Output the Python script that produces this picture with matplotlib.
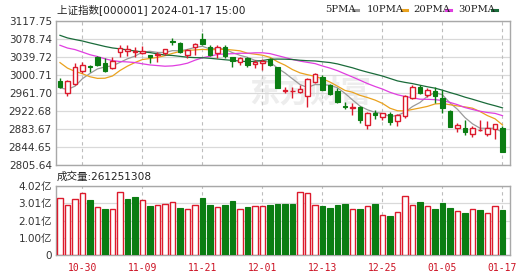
import matplotlib
matplotlib.use('Agg')
import matplotlib.pyplot as plt
import numpy as np
import pandas as pd

plt.rcParams['font.family'] = ['DejaVu Sans', 'Noto Sans CJK SC']

# ---------------- data ----------------
dates = ['10-25', '10-26', '10-27', '10-30', '10-31', '11-01', '11-02', '11-03', '11-06', '11-07',
         '11-08', '11-09', '11-10', '11-13', '11-14', '11-15', '11-16', '11-17', '11-20', '11-21',
         '11-22', '11-23', '11-24', '11-27', '11-28', '11-29', '11-30', '12-01', '12-04', '12-05',
         '12-06', '12-07', '12-08', '12-11', '12-12', '12-13', '12-14', '12-15', '12-18', '12-19',
         '12-20', '12-21', '12-22', '12-25', '12-26', '12-27', '12-28', '12-29', '01-02', '01-03',
         '01-04', '01-05', '01-08', '01-09', '01-10', '01-11', '01-12', '01-15', '01-16', '01-17']

open_ = [2988.0, 2961.0, 2981.0, 3010.0, 3020.0, 3039.0, 3027.0, 3015.0, 3050.0, 3053.5,
         3050.6, 3047.7, 3044.0, 3045.0, 3048.0, 3075.0, 3069.0, 3044.0, 3060.7, 3078.0,
         3061.0, 3047.7, 3060.7, 3039.0, 3029.6, 3037.0, 3024.5, 3027.0, 3034.7, 3017.0,
         2967.0, 2965.0, 2964.6, 2955.0, 2986.0, 2996.0, 2979.0, 2967.0, 2934.0, 2929.0,
         2931.0, 2892.0, 2918.0, 2909.0, 2916.0, 2900.0, 2912.0, 2950.0, 2974.0, 2957.0,
         2965.0, 2950.0, 2923.0, 2885.0, 2885.0, 2873.0, 2881.0, 2873.0, 2883.0, 2885.0]

high = [2993.5, 2990.0, 3027.4, 3029.6, 3022.4, 3042.0, 3037.0, 3040.0, 3065.7, 3066.0,
        3062.0, 3063.6, 3045.0, 3051.0, 3058.0, 3080.0, 3072.0, 3056.0, 3071.0, 3092.4,
        3065.7, 3065.7, 3065.7, 3040.0, 3040.0, 3039.0, 3033.0, 3034.7, 3037.0, 3018.8,
        2975.4, 2975.0, 2979.0, 2994.0, 3006.0, 3001.0, 2981.0, 2972.0, 2943.0, 2939.0,
        2934.0, 2921.0, 2925.0, 2919.0, 2921.0, 2916.0, 2957.0, 2979.0, 2979.0, 2972.0,
        2975.0, 2968.0, 2925.0, 2896.0, 2903.0, 2890.0, 2903.0, 2902.0, 2895.0, 2890.0]

low = [2971.8, 2955.0, 2979.0, 3004.3, 3008.0, 3020.0, 3008.0, 3013.0, 3039.0, 3042.0,
       3040.5, 3045.5, 3027.4, 3029.6, 3045.0, 3065.8, 3049.0, 3038.0, 3044.0, 3065.7,
       3041.9, 3036.8, 3038.0, 3017.3, 3022.4, 3018.8, 3015.2, 3011.5, 3020.0, 2971.8,
       2961.0, 2950.0, 2962.4, 2930.6, 2983.0, 2968.0, 2957.0, 2941.0, 2926.0, 2914.0,
       2897.0, 2883.0, 2905.0, 2903.0, 2892.0, 2890.0, 2907.0, 2948.0, 2960.0, 2952.0,
       2941.0, 2918.0, 2887.0, 2878.0, 2871.0, 2867.0, 2880.0, 2868.0, 2861.0, 2833.0]

close = [2974.11, 2988.30, 3017.78, 3021.55, 3018.77, 3023.08, 3009.41, 3030.80, 3058.41, 3057.27,
         3052.37, 3053.28, 3038.97, 3046.53, 3056.07, 3072.83, 3050.93, 3054.37, 3068.32, 3067.93,
         3043.61, 3061.86, 3040.97, 3031.70, 3038.55, 3021.69, 3029.67, 3031.64, 3022.91, 2972.30,
         2968.93, 2966.21, 2969.56, 2991.44, 3003.44, 2968.76, 2958.99, 2942.56, 2930.80, 2932.39,
         2902.11, 2918.72, 2914.78, 2918.81, 2898.87, 2914.61, 2954.70, 2974.93, 2962.28, 2967.25,
         2954.35, 2929.18, 2887.54, 2893.25, 2877.70, 2886.65, 2881.98, 2886.29, 2893.99, 2833.62]

# closes of the 29 sessions before the window (needed for the moving averages)
prior_close = [3158.08, 3122.35, 3116.72, 3142.78, 3137.06, 3126.55, 3126.40, 3117.74, 3125.93, 3124.25,
               3108.57, 3084.70, 3132.43, 3130.42, 3102.27, 3107.32, 3110.48, 3096.92, 3075.24, 3078.96,
               3107.90, 3088.10, 3073.81, 3083.50, 3058.71, 3005.39, 2983.06, 2939.29, 2962.24]

# volume in 亿 (1e8 shares)
volume = [3.30, 2.91, 3.24, 3.59, 3.20, 2.78, 2.66, 2.66, 3.69, 3.24,
          3.36, 3.20, 2.85, 2.91, 2.95, 3.07, 2.72, 2.66, 2.91, 3.30,
          2.91, 2.78, 2.91, 3.13, 2.66, 2.81, 2.85, 2.85, 2.91, 2.97,
          2.97, 2.97, 3.69, 3.59, 2.91, 2.85, 2.72, 2.91, 2.97, 2.66,
          2.66, 2.85, 2.97, 2.33, 2.27, 2.49, 3.44, 2.91, 3.07, 2.85,
          2.66, 3.01, 2.72, 2.58, 2.43, 2.66, 2.62, 2.43, 2.85, 2.61251308]
latest_volume = 261251308

ma_windows = [5, 10, 20, 30]
ma_labels = ['5PMA', '10PMA', '20PMA', '30PMA']
ma_colors = ['#9a9a9a', '#eaa21e', '#e03ee0', '#1a6b3a']

price_ticks = ['2805.64', '2844.65', '2883.67', '2922.68', '2961.70', '3000.71', '3039.72', '3078.74', '3117.75']
vol_ticks = ['0', '1.00亿', '2.01亿', '3.01亿', '4.02亿']
xtick_dates = ['10-30', '11-09', '11-21', '12-01', '12-13', '12-25', '01-05', '01-17']
title = '上证指数[000001] 2024-01-17 15:00'

# ---------------- styling ----------------
RED = '#dc1a2c'
GREEN = '#0b7d12'
GRID = '#d9d9d9'
FRAME = '#a8a8a8'
TXT = '#333333'

W, H = 530, 276
fig = plt.figure(figsize=(W / 100, H / 100), dpi=100)

def px_axes(l, t, r, b):
    return fig.add_axes([l / W, 1 - b / H, (r - l) / W, (b - t) / H])

ax = px_axes(56, 21, 510, 165)
axv = px_axes(56, 186, 510, 255)

n = len(close)
x = np.arange(n)
o = np.array(open_); c = np.array(close); hi = np.array(high); lo = np.array(low)
up = c >= o

# moving averages
full = pd.Series(prior_close + close)
for w, lab, col in zip(ma_windows, ma_labels, ma_colors):
    ma = full.rolling(w).mean().to_numpy()[-n:]
    ax.plot(x, ma, color=col, lw=0.9, zorder=2)

# candles
bw = 0.62
ax.vlines(x[up], lo[up], hi[up], color=RED, lw=1.0, zorder=3)
ax.vlines(x[~up], lo[~up], hi[~up], color=GREEN, lw=1.0, zorder=3)
body_h = np.maximum(np.abs(c - o), 0.6)
ax.bar(x[up], body_h[up], bottom=np.minimum(o, c)[up], width=bw,
       facecolor='white', edgecolor=RED, lw=1.0, zorder=4)
ax.bar(x[~up], body_h[~up], bottom=np.minimum(o, c)[~up], width=bw,
       facecolor=GREEN, edgecolor=GREEN, lw=0.8, zorder=4)

# volume, colour by change vs previous close
prev = np.array([prior_close[-1]] + close[:-1])
vup = c >= prev
vol = np.array(volume)
axv.bar(x[vup], vol[vup], width=0.68, facecolor='white', edgecolor=RED, lw=1.0, zorder=3)
axv.bar(x[~vup], vol[~vup], width=0.68, facecolor=GREEN, edgecolor=GREEN, lw=0.8, zorder=3)

# axes setup
pt = [float(v) for v in price_ticks]
ax.set_ylim(pt[0], pt[-1])
ax.set_yticks(pt)
ax.set_yticklabels(price_ticks)
axv.set_ylim(0, 4.02)
vt = np.linspace(0, 4.02, len(vol_ticks))
axv.set_yticks(vt)
axv.set_yticklabels(vol_ticks)

xpos = [dates.index(d) for d in xtick_dates]
for a in (ax, axv):
    a.set_xlim(-0.53, 60.0)
    a.set_xticks(xpos)
    a.tick_params(length=0, labelsize=7.5, colors=TXT, pad=3)
    a.grid(axis='y', color=GRID, lw=0.9, ls='-')
    for xp in xpos:
        a.axvline(xp, color='#bdbdbd', lw=0.8, ls=(0, (3, 3)), zorder=1)
    a.set_axisbelow(True)
    for s in a.spines.values():
        s.set_color(FRAME)
        s.set_linewidth(1.0)
ax.set_xticklabels([])
axv.set_xticklabels(xtick_dates, color='#cc1122', fontsize=7, family='DejaVu Sans Mono')
axv.tick_params(axis='x', pad=6)

# watermark
ax.text(0.56, 0.50, '东方财富', transform=ax.transAxes, fontsize=22, color='#ededed',
        fontweight='bold', fontstyle='italic', ha='center', va='center', zorder=0,
        family=['Noto Sans CJK SC', 'DejaVu Sans'])

# title and labels
fig.text(57 / W, 1 - 9.5 / H, title, fontsize=7.6, color='#222222', ha='left', va='center',
         family=['DejaVu Sans', 'Noto Sans CJK SC'])
fig.text(57 / W, 1 - 177 / H, '成交量:' + str(latest_volume), fontsize=7.6, color='#222222',
         ha='left', va='center', family=['DejaVu Sans', 'Noto Sans CJK SC'])

# legend
leg_x = [325, 367, 413, 458]
dash_x = [353, 402, 446, 492]
for lab, col, lx, dx in zip(ma_labels, ma_colors, leg_x, dash_x):
    fig.text(lx / W, 1 - 9.5 / H, lab, fontsize=7.2, color='#222222', ha='left', va='center',
             family='DejaVu Serif')
    fig.add_artist(plt.Line2D([dx / W, (dx + 5) / W], [1 - 9.5 / H, 1 - 9.5 / H],
                              color=col, lw=2.2, transform=fig.transFigure))

fig.savefig('out.png', dpi=100)
